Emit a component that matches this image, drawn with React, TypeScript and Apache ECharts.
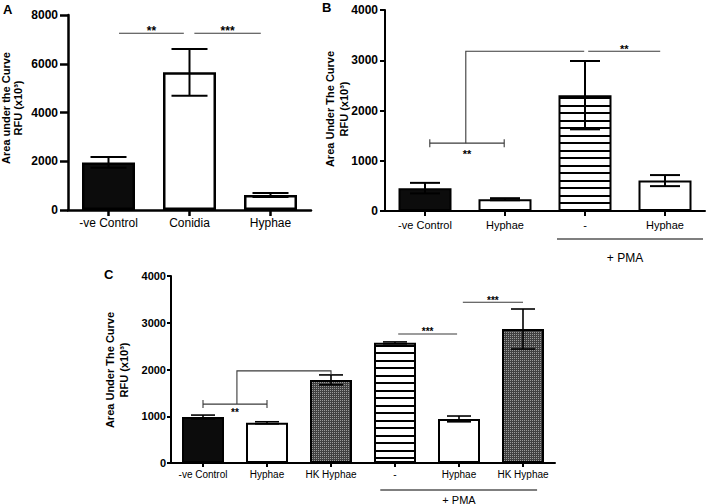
import React, { useEffect, useRef } from 'react';
import * as echarts from 'echarts';

const FONT = '"Liberation Sans", Arial, Helvetica, sans-serif';

// ---------- Panel A ----------
const catsA = ['-ve Control', 'Conidia', 'Hyphae'];
const meanA = [1950, 5650, 615];
const errA = [220, 960, 85];
const fillA = ['black', 'white', 'white'];
const yMaxA = 8000;
const yStepA = 2000;

// ---------- Panel B ----------
const catsB = ['-ve Control', 'Hyphae', '-', 'Hyphae'];
const meanB = [455, 235, 2305, 605];
const errB = [105, 20, 680, 110];
const fillB = ['black', 'white', 'stripes', 'white'];
const yMaxB = 4000;
const yStepB = 1000;

// ---------- Panel C ----------
const catsC = ['-ve Control', 'Hyphae', 'HK Hyphae', '-', 'Hyphae', 'HK Hyphae'];
const meanC = [985, 860, 1778, 2570, 943, 2866];
const errC = [40, 22, 106, 20, 62, 428];
const fillC = ['black', 'white', 'dots', 'stripes', 'white', 'dots'];
const yMaxC = 4000;
const yStepC = 1000;

// ---------- Significance annotations ----------
const sigA = [
  { kind: 'line', from: 0, to: 1, y: 7250, label: '**' },
  { kind: 'line', from: 1, to: 2, y: 7250, label: '***' },
];
const sigB = [
  { kind: 'bracket', from: 0, to: 1, y: 1350, label: '**' },
  { kind: 'elbow', from: 0, to: 1, base: 1350, y: 3180, target: 2 },
  { kind: 'line', from: 2, to: 3, y: 3180, label: '**' },
  { kind: 'group', from: 2, to: 3, label: '+ PMA' },
];
const sigC = [
  { kind: 'bracket', from: 0, to: 1, y: 1260, label: '**' },
  { kind: 'elbow', from: 0, to: 1, base: 1260, y: 1970, target: 2, end: 1890 },
  { kind: 'line', from: 3, to: 4, y: 2760, label: '***' },
  { kind: 'line', from: 4, to: 5, y: 3440, label: '***' },
  { kind: 'group', from: 3, to: 5, label: '+ PMA' },
];

// layout-only offsets (fraction of category band)
const insetsA = [[0.13, -0.07], [0.06, -0.12]];
const insetsB = [[0.06, -0.01], [0.01, -0.01], [0.04, -0.06], [-0.35, 0.475]];
const insetsC = [[0, 0], [0.03, 0], [0.05, -0.03], [0.06, 0], [-0.23, 0.22]];

function makePattern(kind: string): any {
  const c = document.createElement('canvas');
  if (kind === 'stripes') {
    c.width = 8; c.height = 15;
    const ctx = c.getContext('2d')!;
    ctx.fillStyle = '#ffffff'; ctx.fillRect(0, 0, 8, 15);
    ctx.fillStyle = '#000000'; ctx.fillRect(0, 0, 8, 2); ctx.fillRect(0, 7, 8, 2);
    return { image: c, repeat: 'repeat', imageWidth: 8, imageHeight: 15 };
  }
  c.width = 2; c.height = 2;
  const ctx = c.getContext('2d')!;
  ctx.fillStyle = '#404040'; ctx.fillRect(0, 0, 2, 2);
  ctx.fillStyle = '#9a9a9a'; ctx.fillRect(0, 0, 1, 1);
  return { image: c, repeat: 'repeat', imageWidth: 2, imageHeight: 2 };
}

function makeErr(capHalf: number, lw: number) {
  return (params: any, api: any) => {
    const i = api.value(0);
    const m = api.value(1);
    const e = api.value(2);
    const top = api.coord([i, m + e]);
    const bot = api.coord([i, m - e]);
    const st = { stroke: '#000', lineWidth: lw };
    return {
      type: 'group',
      children: [
        { type: 'line', shape: { x1: top[0], y1: top[1], x2: bot[0], y2: bot[1] }, style: st },
        { type: 'line', shape: { x1: top[0] - capHalf, y1: top[1], x2: top[0] + capHalf, y2: top[1] }, style: st },
        { type: 'line', shape: { x1: bot[0] - capHalf, y1: bot[1], x2: bot[0] + capHalf, y2: bot[1] }, style: st },
      ],
    };
  };
}

function makeAnnot(list: any[], insets: number[][], o: any) {
  return (params: any, api: any) => {
    const a = list[params.dataIndex];
    const ins = insets[params.dataIndex] || [0, 0];
    const band = api.size([1, 0])[0];
    const st = { stroke: '#3a3a3a', lineWidth: 1.1 };
    const lab = (x: number, y: number, t: string, fs: number, bold: boolean) => ({
      type: 'text', x, y,
      style: { text: t, fontSize: fs, fontWeight: bold ? 'bold' : 'normal', fontFamily: FONT, fill: '#000', align: 'center', verticalAlign: 'middle' },
    });
    const children: any[] = [];
    if (a.kind === 'line') {
      const xA = api.coord([a.from, 0])[0] + ins[0] * band;
      const xB = api.coord([a.to, 0])[0] + ins[1] * band;
      const y = api.coord([a.from, a.y])[1];
      children.push({ type: 'line', shape: { x1: xA, y1: y, x2: xB, y2: y }, style: st });
      children.push(lab((xA + xB) / 2, y - o.above, a.label, o.starSize, true));
    } else if (a.kind === 'bracket') {
      const xA = api.coord([a.from, 0])[0] + ins[0] * band;
      const xB = api.coord([a.to, 0])[0] + ins[1] * band;
      const y = api.coord([a.from, a.y])[1];
      children.push({ type: 'line', shape: { x1: xA, y1: y, x2: xB, y2: y }, style: st });
      children.push({ type: 'line', shape: { x1: xA, y1: y - o.cap, x2: xA, y2: y + o.cap }, style: st });
      children.push({ type: 'line', shape: { x1: xB, y1: y - o.cap, x2: xB, y2: y + o.cap }, style: st });
      children.push(lab((xA + xB) / 2, y + o.below, a.label, o.starSize, true));
    } else if (a.kind === 'elbow') {
      const xm = (api.coord([a.from, 0])[0] + api.coord([a.to, 0])[0]) / 2 + ins[0] * band;
      const xt = api.coord([a.target, 0])[0] + ins[1] * band;
      const y0 = api.coord([a.from, a.base])[1];
      const y1 = api.coord([a.from, a.y])[1];
      const pts: number[][] = [[xm, y0], [xm, y1], [xt, y1]];
      if (a.end != null) pts.push([xt, api.coord([a.target, a.end])[1]]);
      children.push({ type: 'polyline', shape: { points: pts }, style: { ...st, fill: 'none' } });
    } else if (a.kind === 'group') {
      const xA = api.coord([a.from, 0])[0] + ins[0] * band;
      const xB = api.coord([a.to, 0])[0] + ins[1] * band;
      const y = api.coord([a.from, 0])[1] + o.groupGap;
      children.push({ type: 'line', shape: { x1: xA, y1: y, x2: xB, y2: y }, style: { stroke: '#000', lineWidth: 1.2 } });
      const xc = (api.coord([a.from, 0])[0] + api.coord([a.to, 0])[0]) / 2;
      children.push(lab(xc, y + o.groupText, a.label, o.groupFont, false));
    }
    return { type: 'group', children };
  };
}

export default function App() {
  const ref = useRef<HTMLDivElement>(null);
  useEffect(() => {
    const chart = echarts.init(ref.current!, null, { renderer: 'svg' });
    const fills: any = {
      black: '#0c0c0c',
      white: '#ffffff',
      stripes: makePattern('stripes'),
      dots: makePattern('dots'),
    };

    const xAx = (gi: number, data: string[], fs: number, margin: number, tick: number, lw: number) => ({
      type: 'category', gridIndex: gi, data, boundaryGap: true,
      axisLine: { show: true, lineStyle: { color: '#000', width: lw } },
      axisTick: { show: true, alignWithLabel: true, length: tick, lineStyle: { color: '#000', width: lw } },
      axisLabel: { interval: 0, color: '#000', fontSize: fs, fontFamily: FONT, margin },
      splitLine: { show: false },
    });
    const yAx = (gi: number, max: number, step: number, fs: number, margin: number, tick: number, lw: number) => ({
      type: 'value', gridIndex: gi, min: 0, max, interval: step,
      axisLine: { show: true, lineStyle: { color: '#000', width: lw } },
      axisTick: { show: true, length: tick, lineStyle: { color: '#000', width: lw } },
      axisLabel: { color: '#000', fontSize: fs, fontWeight: 'bold', fontFamily: FONT, margin, formatter: (v: number) => String(v) },
      splitLine: { show: false },
    });

    const bars = (idx: number, means: number[], fl: string[], bw: number, blw: number) => ({
      type: 'bar', xAxisIndex: idx, yAxisIndex: idx, barWidth: bw,
      itemStyle: { borderColor: '#000', borderWidth: blw },
      data: means.map((v, i) => ({ value: v, itemStyle: { color: fills[fl[i]] } })),
      z: 2,
    });
    const errs = (idx: number, means: number[], er: number[], capHalf: number, lw: number) => ({
      type: 'custom', xAxisIndex: idx, yAxisIndex: idx,
      data: means.map((m, i) => [i, m, er[i]]),
      encode: { x: 0, y: 1 },
      renderItem: makeErr(capHalf, lw),
      z: 3,
    });
    const ann = (idx: number, list: any[], ins: number[][], o: any) => ({
      type: 'custom', xAxisIndex: idx, yAxisIndex: idx,
      data: list.map((s) => [s.from, 0]),
      encode: { x: 0, y: 1 },
      renderItem: makeAnnot(list, ins, o),
      clip: false, silent: true, z: 4,
    });

    const yName = (x: number, y: number, t: string) => ({
      type: 'text', x, y, rotation: Math.PI / 2,
      style: { text: t, fontSize: 11, fontWeight: 'bold', fontFamily: FONT, fill: '#000', align: 'center', verticalAlign: 'middle' },
    });
    const panelLabel = (x: number, y: number, t: string) => ({
      type: 'text', x, y,
      style: { text: t, fontSize: 13, fontWeight: 'bold', fontFamily: FONT, fill: '#000', align: 'left', verticalAlign: 'top' },
    });

    const option: any = {
      animation: false,
      backgroundColor: '#ffffff',
      grid: [
        { left: 68, top: 15, width: 243, height: 195, containLabel: false },
        { left: 385, top: 10, width: 320, height: 201, containLabel: false },
        { left: 171, top: 276, width: 384, height: 187, containLabel: false },
      ],
      xAxis: [
        xAx(0, catsA, 12, 7, 6, 2.5),
        xAx(1, catsB, 11, 8, 5, 2),
        xAx(2, catsC, 10, 6, 4, 2),
      ],
      yAxis: [
        yAx(0, yMaxA, yStepA, 12, 10, 8, 2.5),
        yAx(1, yMaxB, yStepB, 12, 7, 5, 2),
        yAx(2, yMaxC, yStepC, 11, 5, 4, 2),
      ],
      series: [
        bars(0, meanA, fillA, 53, 2.5),
        errs(0, meanA, errA, 18, 2),
        ann(0, sigA, insetsA, { above: 2.5, below: 10, cap: 4, starSize: 12, groupGap: 28, groupText: 19, groupFont: 12 }),
        bars(1, meanB, fillB, 53, 2),
        errs(1, meanB, errB, 15, 2),
        ann(1, sigB, insetsB, { above: 2.5, below: 10.5, cap: 4, starSize: 11, groupGap: 28, groupText: 19, groupFont: 12 }),
        bars(2, meanC, fillC, 42, 2),
        errs(2, meanC, errC, 12, 1.6),
        ann(2, sigC, insetsC, { above: 2, below: 8.5, cap: 4, starSize: 10, groupGap: 27, groupText: 9.5, groupFont: 11 }),
      ],
      graphic: [
        panelLabel(3, 3, 'A'),
        panelLabel(322, 1, 'B'),
        panelLabel(104, 268, 'C'),
        yName(6, 108, 'Area under the Curve'),
        yName(18, 108, 'RFU (x10³)'),
        yName(330, 109, 'Area Under The Curve'),
        yName(344, 109, 'RFU (x10³)'),
        yName(110, 370, 'Area Under The Curve'),
        yName(124, 370, 'RFU (x10³)'),
      ],
    };
    chart.setOption(option);
    return () => chart.dispose();
  }, []);
  return <div ref={ref} style={{ position: 'absolute', left: 0, top: 0, width: 709, height: 504 }} />;
}
